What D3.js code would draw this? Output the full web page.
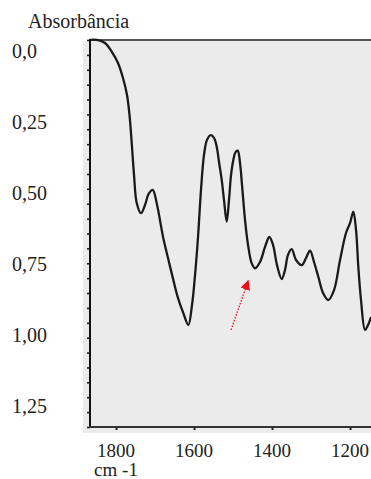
<!DOCTYPE html>
<html><head><meta charset="utf-8">
<script src="https://cdn.jsdelivr.net/npm/d3@7"></script>
<style>html,body{margin:0;padding:0;background:#fff;overflow:hidden}</style>
</head><body>
<script>
// Spectrum data: wavenumber (cm-1) and absorbance
const wavenumber = [1866.7,1848.7,1828.2,1810.3,1794.9,1782.1,1771.8,1765.4,1760.3,1753.8,1746.9,1735.9,1725.6,1716.7,1705.9,1695.6,1679.5,1666.7,1653.1,1641.0,1627.4,1614.6,1605.1,1597.4,1589.7,1582.1,1574.4,1566.7,1557.2,1548.7,1541.8,1535.9,1529.0,1523.1,1516.2,1510.3,1505.1,1499.2,1493.6,1488.0,1482.1,1476.9,1469.2,1461.5,1452.0,1443.6,1430.8,1417.9,1406.9,1397.4,1387.2,1375.1,1366.7,1359.0,1349.5,1338.5,1323.8,1312.8,1302.6,1292.3,1281.3,1269.2,1255.6,1241.0,1225.6,1210.3,1200.0,1191.5,1184.6,1178.7,1171.8,1161.5,1153.8,1146.2];
const absorbance = [-0.039,-0.039,-0.028,0.004,0.042,0.095,0.155,0.225,0.313,0.437,0.535,0.571,0.542,0.504,0.489,0.536,0.654,0.729,0.806,0.870,0.923,0.965,0.894,0.789,0.655,0.489,0.366,0.313,0.296,0.306,0.337,0.391,0.454,0.525,0.601,0.525,0.437,0.384,0.356,0.351,0.394,0.472,0.595,0.683,0.748,0.765,0.743,0.690,0.655,0.683,0.754,0.803,0.771,0.718,0.698,0.736,0.754,0.729,0.703,0.743,0.795,0.852,0.877,0.842,0.736,0.641,0.606,0.566,0.630,0.760,0.877,0.982,0.965,0.937];
const xTicks = [1800,1600,1400,1200];
const yTicks = [0,0.25,0.5,0.75,1.0,1.25];
const yTickLabels = ["0,0","0,25","0,50","0,75","1,00","1,25"];
const arrowFrom = [1505, 0.982];
const arrowTo = [1461, 0.809];

const W = 371, H = 479;
const svg = d3.select("body").append("svg").attr("width", W).attr("height", H)
  .style("display","block");

const x = d3.scaleLinear().domain([1866.7, 1146.2]).range([90, 371]);
const y = d3.scaleLinear().domain([-0.0387, 1.324]).range([40, 427]);

// plot background
svg.append("rect").attr("x", 83).attr("y", 41).attr("width", W - 83).attr("height", 392)
  .attr("fill", "#ebebeb");

// top border
svg.append("line").attr("x1", 90).attr("x2", W).attr("y1", 40).attr("y2", 40)
  .attr("stroke", "#555").attr("stroke-width", 2);

// minor y ticks (evenly spaced along the axis)
const nMinor = 26;
const yd = y.domain();
const minorVals = d3.range(nMinor + 1).map(i => yd[0] + i * (yd[1] - yd[0]) / nMinor);
const yAxisMinor = d3.axisLeft(y).tickValues(minorVals).tickSize(3).tickFormat("");
const gy = svg.append("g").attr("transform", "translate(90,0)").call(yAxisMinor);
gy.select(".domain").remove();
gy.selectAll(".tick line").attr("stroke", "#222").attr("stroke-width", 1.6);

// y axis line
svg.append("line").attr("x1", 90).attr("x2", 90).attr("y1", 39).attr("y2", 428)
  .attr("stroke", "#111").attr("stroke-width", 2);

// y labels (left aligned)
svg.append("g").selectAll("text").data(yTicks).join("text")
  .attr("x", 12).attr("y", d => y(d)).attr("dy", "0.35em")
  .attr("font-family", "'Liberation Serif', 'Times New Roman', serif")
  .attr("font-size", 20).attr("fill", "#222")
  .text((d, i) => yTickLabels[i]);

// x axis
const gx = svg.append("g").attr("transform", "translate(0,427)")
  .call(d3.axisBottom(x).tickValues(xTicks).tickSize(3).tickFormat(""));
gx.select(".domain").remove();
gx.selectAll(".tick line").attr("stroke", "#222").attr("stroke-width", 2);
svg.append("line").attr("x1", 89).attr("x2", W).attr("y1", 427).attr("y2", 427)
  .attr("stroke", "#333").attr("stroke-width", 2);

svg.append("g").selectAll("text").data(xTicks).join("text")
  .attr("x", d => x(d)).attr("y", 457).attr("text-anchor", "middle")
  .attr("font-family", "'Liberation Serif', 'Times New Roman', serif")
  .attr("font-size", 19).attr("fill", "#222")
  .text(d => d);

svg.append("text").attr("x", x(1800)).attr("y", 476).attr("text-anchor", "middle")
  .attr("font-family", "'Liberation Serif', 'Times New Roman', serif")
  .attr("font-size", 19).attr("fill", "#222").text("cm -1");

svg.append("text").attr("x", 28).attr("y", 28)
  .attr("font-family", "'Liberation Serif', 'Times New Roman', serif")
  .attr("font-size", 20).attr("fill", "#222").text("Absorbância");

// spectrum
const data = wavenumber.map((w, i) => [w, absorbance[i]]);
svg.append("path").datum(data)
  .attr("d", d3.line().x(d => x(d[0])).y(d => y(d[1])).curve(d3.curveCatmullRom.alpha(0.5)))
  .attr("fill", "none").attr("stroke", "#1a1a1a").attr("stroke-width", 2.3)
  .attr("stroke-linejoin", "round");

// red dotted arrow
const defs = svg.append("defs");
defs.append("marker").attr("id", "ah").attr("viewBox", "0 0 10 10")
  .attr("refX", 9).attr("refY", 5).attr("markerWidth", 10).attr("markerHeight", 10)
  .attr("markerUnits", "userSpaceOnUse").attr("orient", "auto")
  .append("path").attr("d", "M0,0 L10,5 L0,10 Z").attr("fill", "#e8101a");
svg.append("line")
  .attr("x1", x(arrowFrom[0])).attr("y1", y(arrowFrom[1]))
  .attr("x2", x(arrowTo[0])).attr("y2", y(arrowTo[1]))
  .attr("stroke", "#e8101a").attr("stroke-width", 1.3)
  .attr("stroke-dasharray", "1.5,1.5")
  .attr("marker-end", "url(#ah)");
</script>
</body></html>
